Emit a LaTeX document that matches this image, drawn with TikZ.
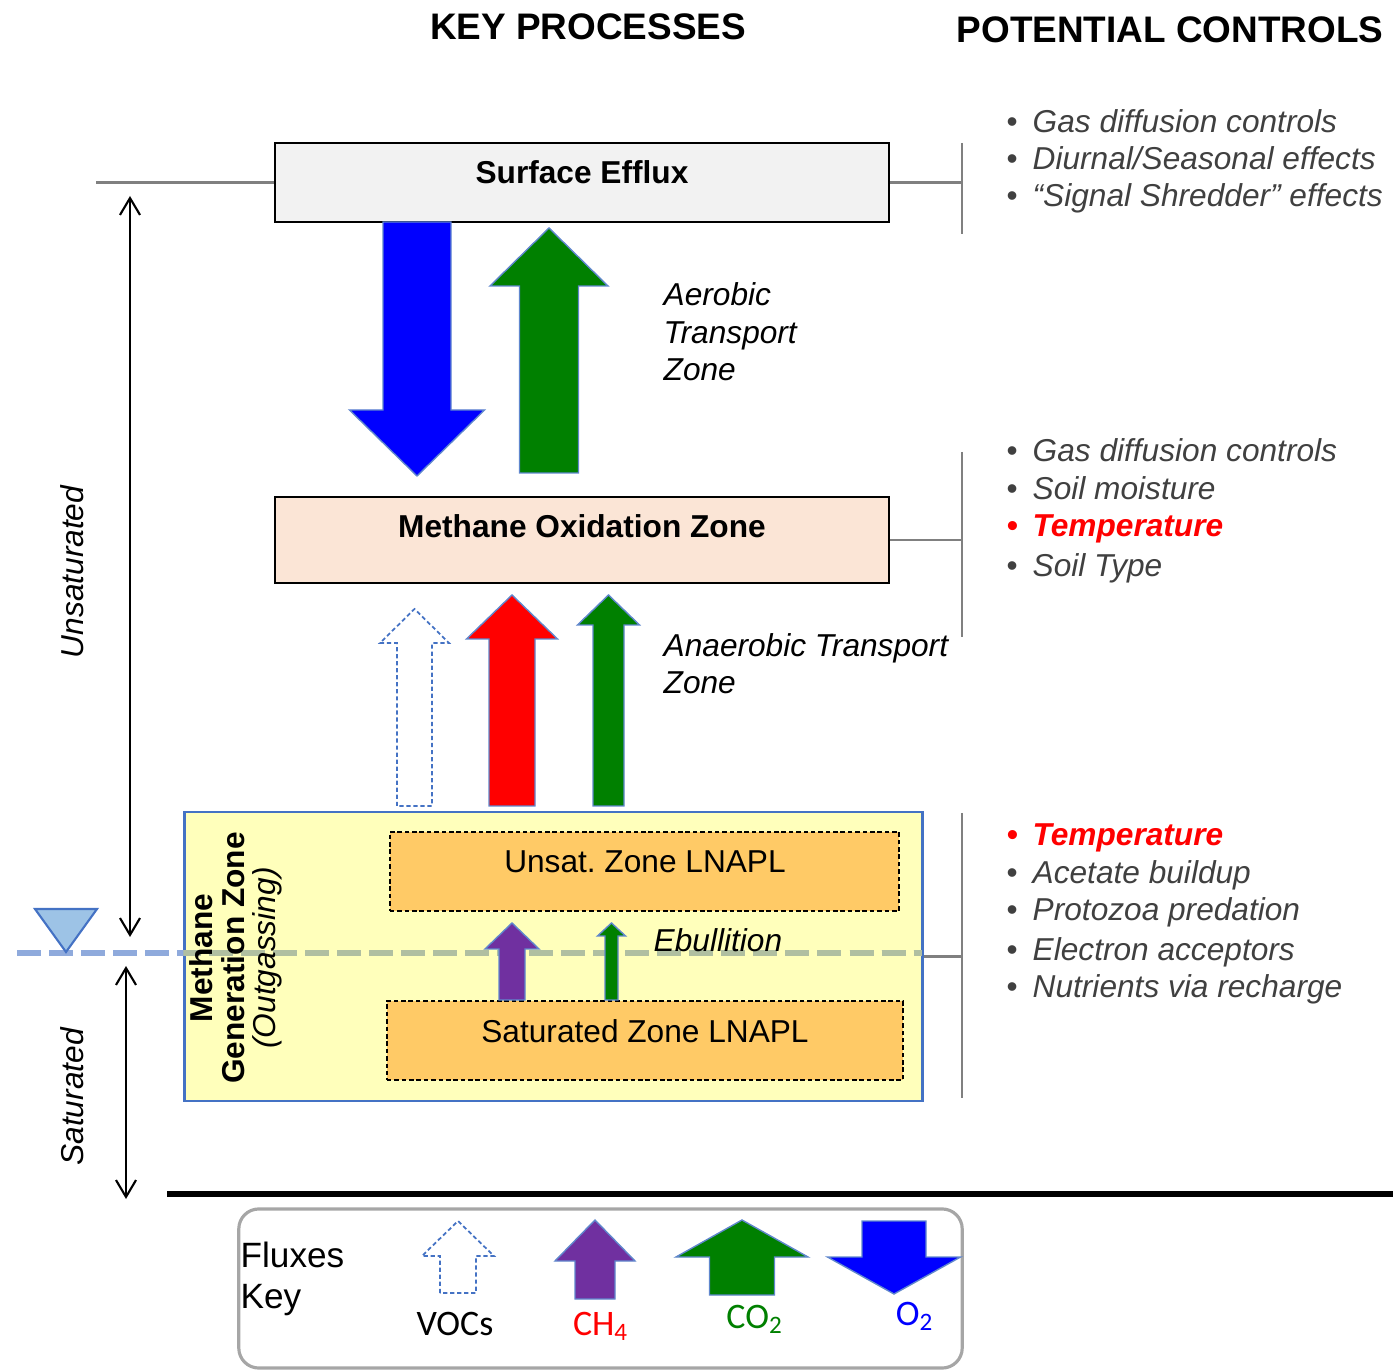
\documentclass[tikz,border=0pt]{standalone}
\usepackage{fontspec}
\setmainfont{Liberation Sans}
\newfontfamily\keyfont{Carlito}
\usetikzlibrary{arrows.meta}

\definecolor{effluxgray}{HTML}{F2F2F2}
\definecolor{oxpeach}{HTML}{FBE5D6}
\definecolor{genyellow}{HTML}{FFFFBB}
\definecolor{lnaplorange}{HTML}{FFCA66}
\definecolor{edgeblue}{HTML}{4472C4}
\definecolor{wtblue}{HTML}{8FAADC}
\definecolor{wtgreen}{HTML}{B0BFA1}
\definecolor{triblue}{HTML}{9DC3E6}
\definecolor{linegray}{HTML}{808080}
\definecolor{textgray}{HTML}{404040}
\definecolor{ch4purple}{HTML}{7030A0}
\definecolor{co2green}{HTML}{008000}

% block arrow: [style](centre x:shaft half:head half)(foot y:head base y:tip y)
\def\flux[#1](#2:#3:#4)(#5:#6:#7){\draw[#1] (#2-#3,#5) -- (#2-#3,#6) -- (#2-#4,#6) -- (#2,#7) -- (#2+#4,#6) -- (#2+#3,#6) -- (#2+#3,#5) -- cycle}

\tikzset{
  zonebox/.style={draw=black, line width=0.6pt, inner sep=0pt, minimum width=6.14cm},
  genbox/.style={draw=edgeblue, line width=0.8pt, fill=genyellow, inner sep=0pt, minimum width=7.37cm, minimum height=2.89cm},
  lnaplbox/.style={draw=black, line width=0.6pt, dash pattern=on 1.3pt off 0.8pt, fill=lnaplorange, inner sep=0pt, minimum height=0.79cm},
  keybox/.style={draw=black!35, line width=0.9pt, rounded corners=0.2cm, inner sep=0pt, minimum width=7.23cm, minimum height=1.59cm},
  boxlabel/.style={anchor=base, inner sep=0pt, font=\bfseries\fontsize{9pt}{11pt}\selectfont},
  lnapllabel/.style={anchor=base, inner sep=0pt, font=\fontsize{9pt}{11pt}\selectfont},
  titlelabel/.style={anchor=base, inner sep=0pt, font=\bfseries\fontsize{10.5pt}{12pt}\selectfont},
  zonetext/.style={anchor=base west, inner sep=0pt, font=\itshape\fontsize{9pt}{11pt}\selectfont},
  sidelabel/.style={rotate=90, inner sep=0pt, font=\itshape\fontsize{9pt}{11pt}\selectfont},
  genlabel/.style={rotate=90, align=center, inner sep=0pt, font=\fontsize{9pt}{8.9pt}\selectfont},
  ctrldot/.style={anchor=base west, inner sep=0pt, text=textgray, font=\fontsize{9pt}{11pt}\selectfont},
  ctrltext/.style={ctrldot, font=\itshape\fontsize{9pt}{11pt}\selectfont},
  ctrlplain/.style={},
  ctrlhot/.style={text=red, font=\bfseries\itshape\fontsize{9pt}{11pt}\selectfont},
  ctrlline/.style={draw=linegray, line width=0.8pt},
  dimarrow/.style={line width=0.6pt, {Straight Barb[length=4.8pt,width=5.7pt]}-{Straight Barb[length=4.8pt,width=5.7pt]}},
  wtline/.style={draw=wtblue, line width=1.7pt, dash pattern=on 0.24cm off 0.08cm},
  fluxedge/.style={draw=edgeblue!85, line width=0.4pt},
  fluxvoc/.style={draw=edgeblue, line width=0.5pt, dash pattern=on 1.2pt off 0.8pt, fill=white},
  keytext/.style={anchor=base west, inner sep=0pt, font=\fontsize{10pt}{12pt}\selectfont},
  keylabel/.style={anchor=base, inner sep=0pt, font=\keyfont\fontsize{10.2pt}{12pt}\selectfont},
}

\begin{document}
\begin{tikzpicture}[x=0.01cm, y=-0.01cm]
  \useasboundingbox (0,0) rectangle (1393,1370);

  %% headings
  \node[titlelabel] (keyproc) at (588,40) {KEY PROCESSES};
  \node[titlelabel] (potctrl) at (1170,43) {POTENTIAL CONTROLS};

  %% zones
  \node[zonebox, fill=effluxgray, minimum height=0.79cm] (surface) at (582,182.5) {};
  \node[boxlabel] (surfacelbl) at (582,184) {Surface Efflux};

  \node[zonebox, fill=oxpeach, minimum height=0.86cm] (oxidation) at (582,540) {};
  \node[boxlabel] (oxidationlbl) at (582,538) {Methane Oxidation Zone};

  \node[genbox] (generation) at (553.5,956.5) {};
  \node[lnaplbox, minimum width=5.09cm] (unsat) at (644.5,871.5) {};
  \node[lnapllabel] (unsatlbl) at (645,873) {Unsat.\ Zone LNAPL};
  \node[lnaplbox, minimum width=5.16cm] (satzone) at (645,1040.5) {};
  \node[lnapllabel] (satzonelbl) at (645,1042) {Saturated Zone LNAPL};

  %% water table
  \coordinate (wtleft) at (17,953);
  \coordinate (wtright) at (922,953);
  \draw[wtline] (wtleft) -- (wtright);
  \begin{scope}
    \clip (generation.south west) rectangle (generation.north east);
    \draw[wtline, draw=wtgreen] (wtleft) -- (wtright);
  \end{scope}
  \draw[draw=edgeblue, fill=triblue, line width=0.6pt] (35,909) -- (97,909) -- (66,952) -- cycle;
  \node[genlabel] (genlbl) at (236,958) {\textbf{Methane}\\\textbf{Generation Zone}\\\textit{(Outgassing)}};

  %% fluxes between zones
  \flux[fluxedge, fill=blue](417:34:67.5)(222:410:476);
  \flux[fluxedge, fill=co2green](549:29.5:59)(473:286:228);
  \flux[fluxvoc](414.5:17.5:34.5)(806:643:609);
  \flux[fluxedge, fill=red](512:23:45.5)(806:639:595);
  \flux[fluxedge, fill=co2green](608.5:15.5:31)(806:625:595);
  \flux[fluxedge, fill=ch4purple](512:13:27)(1000:949:923);
  \flux[fluxedge, fill=co2green](611.5:6.5:14)(1000:936:923);

  \node[zonetext] (aerob1) at (663,306) {Aerobic};
  \node[zonetext] (aerob2) at (663,344) {Transport};
  \node[zonetext] (aerob3) at (663,381) {Zone};
  \node[zonetext] (anaer1) at (663,657) {Anaerobic Transport};
  \node[zonetext] (anaer2) at (663,694) {Zone};
  \node[zonetext] (ebull) at (653,952) {Ebullition};

  %% unsaturated / saturated extent
  \coordinate (unsattop) at (130,196);
  \coordinate (unsatbot) at (130,937);
  \coordinate (sattop) at (126,966);
  \coordinate (satbot) at (126,1199);
  \draw[dimarrow] (unsattop) -- (unsatbot);
  \draw[dimarrow] (sattop) -- (satbot);
  \node[sidelabel] (unsatside) at (72,572) {Unsaturated};
  \node[sidelabel] (satside) at (72,1097) {Saturated};

  \draw[line width=1.7pt] (167,1194) -- (1393,1194);

  %% controls brackets
  \coordinate (brA1) at (962,143);  \coordinate (brA2) at (962,234);
  \coordinate (brB1) at (962,452);  \coordinate (brB2) at (962,637);
  \coordinate (brC1) at (962,813);  \coordinate (brC2) at (962,1098);
  \draw[ctrlline] (brA1) -- (brA2);
  \draw[ctrlline] (brB1) -- (brB2);
  \draw[ctrlline] (brC1) -- (brC2);
  \draw[ctrlline] (surface.west) -- ++(-178,0);
  \draw[ctrlline] (surface.east) -- (surface.east -| brA1);
  \draw[ctrlline] (oxidation.east) -- (oxidation.east -| brB1);
  \draw[ctrlline] (generation.east) -- (generation.east -| brC1);

  \foreach \y/\t/\s [count=\i] in {133/Gas diffusion controls/ctrlplain, 170/{Diurnal/Seasonal effects}/ctrlplain, 207/{“Signal Shredder” effects}/ctrlplain}
  {
    \node[ctrldot,\s] (dotA\i) at (1006,\y) {•};
    \node[ctrltext,\s] (ctrlA\i) at (1032,\y) {\t};
  }
  \foreach \y/\t/\s [count=\i] in {462/Gas diffusion controls/ctrlplain, 500/Soil moisture/ctrlplain, 537/Temperature/ctrlhot, 577/Soil Type/ctrlplain}
  {
    \node[ctrldot,\s] (dotB\i) at (1006,\y) {•};
    \node[ctrltext,\s] (ctrlB\i) at (1032,\y) {\t};
  }
  \foreach \y/\t/\s [count=\i] in {846/Temperature/ctrlhot, 884/Acetate buildup/ctrlplain, 921/Protozoa predation/ctrlplain, 961/Electron acceptors/ctrlplain, 998/Nutrients via recharge/ctrlplain}
  {
    \node[ctrldot,\s] (dotC\i) at (1006,\y) {•};
    \node[ctrltext,\s] (ctrlC\i) at (1032,\y) {\t};
  }

  %% key
  \node[keybox] (key) at (600.5,1288.5) {};
  \node[keytext] (keyname1) at (240,1267) {Fluxes};
  \node[keytext] (keyname2) at (240,1308) {Key};
  \flux[fluxvoc](458:18:36)(1293:1256:1221);
  \flux[fluxedge, fill=ch4purple](595:20:40)(1299:1261:1220);
  \flux[fluxedge, fill=co2green](742:32.5:66)(1295:1257:1220);
  \flux[fluxedge, fill=blue](894:32:66.5)(1221:1257:1294);
  \node[keylabel] (keyvoc) at (455,1335) {VOCs};
  \node[keylabel, text=red] (keych4) at (601,1335) {CH\textsubscript{4}};
  \node[keylabel, text=co2green] (keyco2) at (755,1328) {CO\textsubscript{2}};
  \node[keylabel, text=blue] (keyo2) at (915,1325) {O\textsubscript{2}};
\end{tikzpicture}
\end{document}
